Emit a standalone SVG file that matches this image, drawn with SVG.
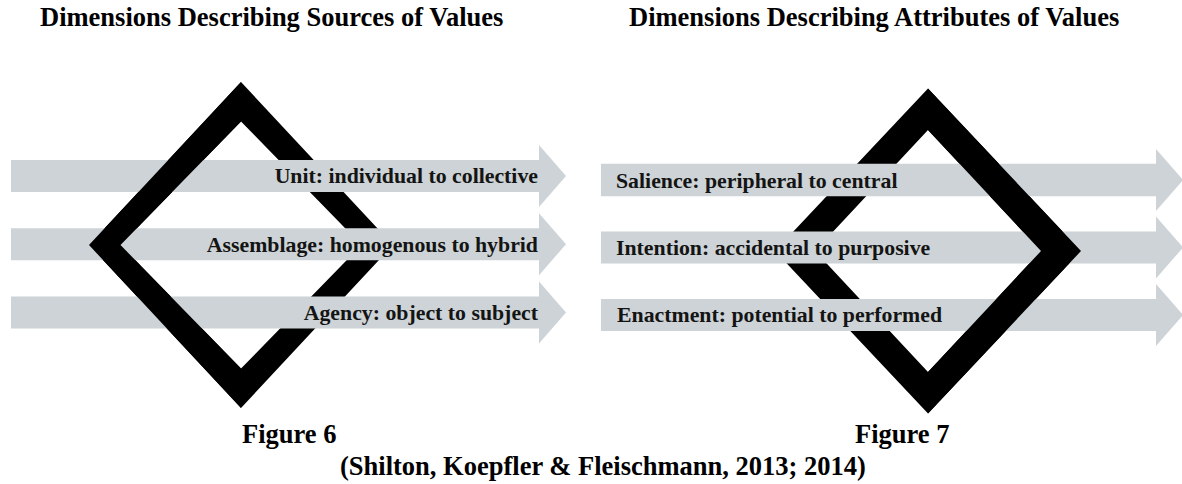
<svg xmlns="http://www.w3.org/2000/svg" xmlns:xlink="http://www.w3.org/1999/xlink" width="1182" height="484" viewBox="0 0 1182 484">
  <style>
    .title { font-family: "Liberation Serif", "Times New Roman", serif; font-weight: bold; font-size: 26.5px; fill: #000; }
    .label { font-family: "Liberation Serif", "Times New Roman", serif; font-weight: bold; font-size: 21.8px; fill: #141414; }
    .band { fill: #cdd3d6; }
    .ring { fill: #000; fill-rule: evenodd; }
  </style>
  <defs>
    <!-- diamond rings: outer outline followed by inner hole -->
    <path id="ring6" class="ring" d="M241 82 L393 245 L241 408 L89 245 Z M241 121.5 L361.5 245 L241 368.5 L120.5 245 Z"/>
    <path id="ring7" class="ring" d="M928 88.5 L1081 251 L928 413.5 L775 251 Z M928 130 L1041 251 L928 372 L815 251 Z"/>
    <!-- halves used to weave the rings through the bands -->
    <clipPath id="left6"><rect x="0" y="0" width="241" height="484"/></clipPath>
    <clipPath id="right7"><rect x="928" y="0" width="254" height="484"/></clipPath>
  </defs>

  <rect width="1182" height="484" fill="#fff"/>

  <!-- headings -->
  <text class="title" x="40" y="26">Dimensions Describing Sources of Values</text>
  <text class="title" x="629" y="26">Dimensions Describing Attributes of Values</text>

  <!-- rings, drawn first so the bands pass over them -->
  <g id="fig6-diamond">
    <use xlink:href="#ring6"/>
  </g>
  <g id="fig7-diamond">
    <use xlink:href="#ring7"/>
  </g>

  <g id="connectors">
    <g id="unit">
      <path class="band" d="M11 160 H539 V145 L566 176 L539 207 V192 H11 Z"/>
      <text class="label" x="538" y="183" text-anchor="end">Unit: individual to collective</text>
    </g>
    <g id="assemblage">
      <path class="band" d="M11 228.2 H539 V213.2 L566 244.2 L539 275.2 V260.2 H11 Z"/>
      <text class="label" x="538" y="252" text-anchor="end">Assemblage: homogenous to hybrid</text>
    </g>
    <g id="agency">
      <path class="band" d="M11 296.5 H539 V281.5 L566 312.5 L539 343.5 V328.5 H11 Z"/>
      <text class="label" x="538" y="320" text-anchor="end">Agency: object to subject</text>
    </g>

    <g id="salience">
      <path class="band" d="M601 163.7 H1156 V149 L1183 180 L1156 211 V196.3 H601 Z"/>
      <text class="label" x="616" y="187.5">Salience: peripheral to central</text>
    </g>
    <g id="intention">
      <path class="band" d="M601 231.5 H1156 V216.5 L1183 247.5 L1156 278.5 V263.5 H601 Z"/>
      <text class="label" x="616" y="255">Intention: accidental to purposive</text>
    </g>
    <g id="enactment">
      <path class="band" d="M601 299 H1156 V284 L1183 315 L1156 346 V331 H601 Z"/>
      <text class="label" x="617" y="321.5">Enactment: potential to performed</text>
    </g>
  </g>

  <!-- front halves of the rings, laid over the bands -->
  <g id="fig6-diamond-front">
    <use xlink:href="#ring6" clip-path="url(#left6)"/>
  </g>
  <g id="fig7-diamond-front">
    <use xlink:href="#ring7" clip-path="url(#right7)"/>
  </g>

  <!-- captions -->
  <text class="title" x="242" y="443">Figure 6</text>
  <text class="title" x="855" y="443">Figure 7</text>
  <text class="title" x="340" y="475">(Shilton, Koepfler &amp; Fleischmann, 2013; 2014)</text>
</svg>
